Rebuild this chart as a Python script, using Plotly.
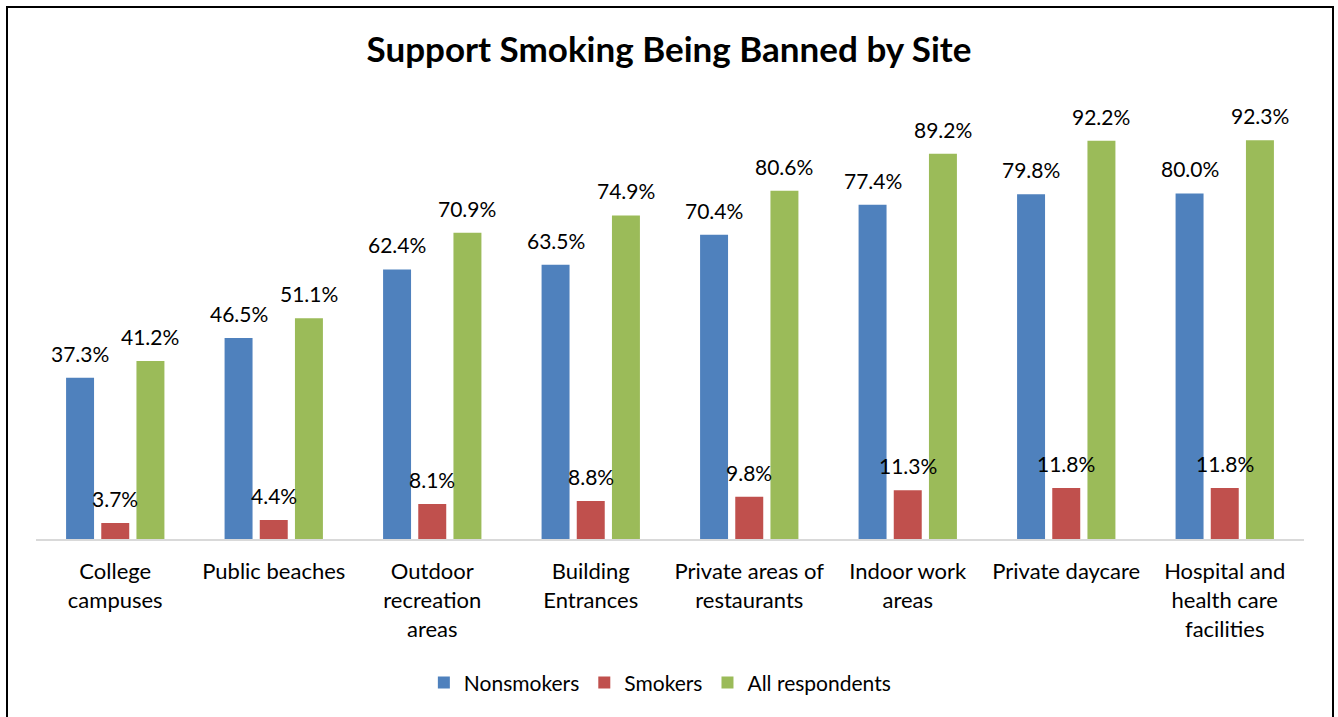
import plotly.graph_objects as go

# Survey results: share supporting a smoking ban at each site (%)
sites = [
    "College<br>campuses",
    "Public beaches",
    "Outdoor<br>recreation<br>areas",
    "Building<br>Entrances",
    "Private areas of<br>restaurants",
    "Indoor work<br>areas",
    "Private daycare",
    "Hospital and<br>health care<br>facilities",
]
nonsmokers = [37.3, 46.5, 62.4, 63.5, 70.4, 77.4, 79.8, 80.0]
smokers = [3.7, 4.4, 8.1, 8.8, 9.8, 11.3, 11.8, 11.8]
all_respondents = [41.2, 51.1, 70.9, 74.9, 80.6, 89.2, 92.2, 92.3]

series = [
    ("Nonsmokers", nonsmokers, "#4F81BD"),
    ("Smokers", smokers, "#C0504D"),
    ("All respondents", all_respondents, "#9BBB59"),
]

FONT = "Lato, Carlito, Calibri, sans-serif"
BARGAP = 0.334
BARGROUPGAP = 0.205

fig = go.Figure()
for name, vals, color in series:
    fig.add_trace(go.Bar(
        x=sites, y=vals, name=name,
        marker=dict(color=color, line=dict(width=0)),
        hoverinfo="skip",
    ))

# Value labels above each bar, placed at the bar's slot within its group
slot = (1 - BARGAP) / len(series)
annotations = []
for k, (name, vals, color) in enumerate(series):
    offset = (k - (len(series) - 1) / 2) * slot
    for i, v in enumerate(vals):
        annotations.append(dict(
            x=i + offset, y=v, xref="x", yref="y",
            text=f"{v:.1f}%", showarrow=False,
            yanchor="bottom", xanchor="center", yshift=10,
            font=dict(family=FONT, size=21, color="#000000"),
        ))

fig.update_layout(
    width=1338, height=717, autosize=False,
    margin=dict(l=36, r=34, t=107, b=178),
    paper_bgcolor="white", plot_bgcolor="white",
    barmode="group", bargap=BARGAP, bargroupgap=BARGROUPGAP,
    font=dict(family=FONT, size=21, color="#000000"),
    title=dict(
        text="<b>Support Smoking Being Banned by Site</b>",
        x=0.5, xanchor="center", xref="container",
        y=1 - 50 / 717, yanchor="middle", yref="container",
        font=dict(family=FONT, size=35, color="#000000"),
    ),
    xaxis=dict(
        showline=True, linecolor="#D9D9D9", linewidth=2,
        ticks="", showgrid=False, ticklabelstandoff=12,
        tickfont=dict(family=FONT, size=22, color="#000000"),
        fixedrange=True,
    ),
    yaxis=dict(
        range=[0, 100], visible=False, showgrid=False,
        zeroline=False, fixedrange=True,
    ),
    legend=dict(
        orientation="h", x=0.492, xanchor="center",
        y=-0.333, yanchor="middle",
        font=dict(family=FONT, size=21, color="#000000"),
        itemclick=False, itemdoubleclick=False,
        traceorder="normal",
    ),
    annotations=annotations,
    shapes=[dict(
        type="rect", xref="paper", yref="paper",
        x0=(7 - 36) / 1268, x1=(1333 - 36) / 1268,
        y0=(539 - 725) / 432, y1=(539 - 7) / 432,
        line=dict(color="#000000", width=2), fillcolor="rgba(0,0,0,0)",
        layer="above",
    )],
)

fig.write_html("out.html", config={"displayModeBar": False})
